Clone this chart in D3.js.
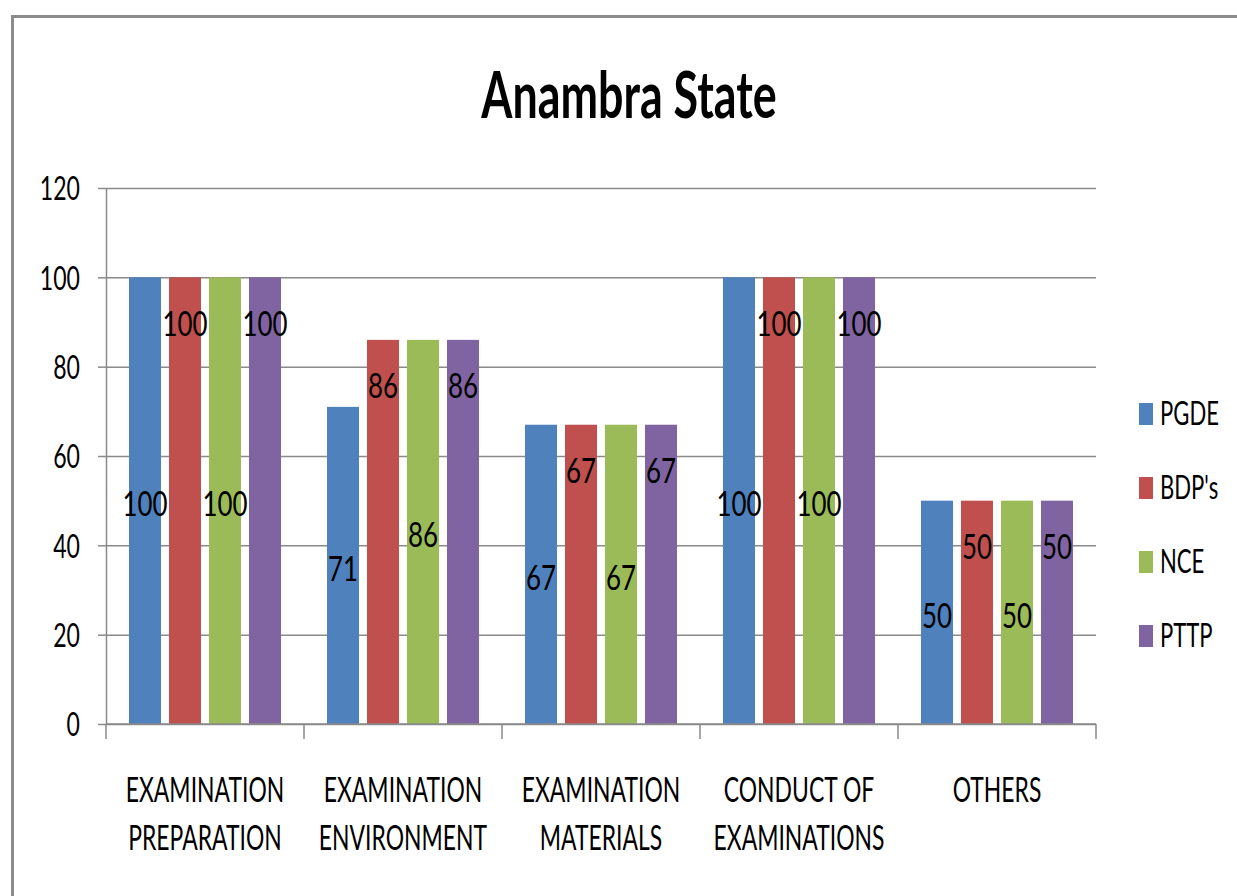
<!DOCTYPE html>
<html>
<head>
<meta charset="utf-8">
<script src="https://cdn.jsdelivr.net/npm/d3@7"></script>
<style>
  body { margin: 0; background: #fff; }
  svg { display: block; }
  text { font-family: Lato, "Open Sans", sans-serif; fill: #000; }
</style>
</head>
<body>
<div id="chart"></div>
<script>
// data
var categories = ["EXAMINATION\nPREPARATION", "EXAMINATION\nENVIRONMENT", "EXAMINATION\nMATERIALS", "CONDUCT OF\nEXAMINATIONS", "OTHERS"];
var seriesNames = ["PGDE", "BDP's", "NCE", "PTTP"];
var pgde = [100, 71, 67, 100, 50];
var bdps = [100, 86, 67, 100, 50];
var nce  = [100, 86, 67, 100, 50];
var pttp = [100, 86, 67, 100, 50];
var yTicks = [0, 20, 40, 60, 80, 100, 120];
var colors = ["#4F81BD", "#C0504D", "#9BBB59", "#8064A2"];

var seriesValues = [pgde, bdps, nce, pttp];

var W = 1237, H = 896;
var margin = { top: 188, right: 141, bottom: 172, left: 106 };
var width = W - margin.left - margin.right,
    height = H - margin.top - margin.bottom;

var svg = d3.select("#chart").append("svg")
    .attr("width", W).attr("height", H);

// outer chart frame (runs off the right / bottom edge like the picture)
svg.append("rect")
    .attr("x", 12.5).attr("y", 16.5)
    .attr("width", W + 20).attr("height", H + 20)
    .attr("fill", "none").attr("stroke", "#8c8c8c").attr("stroke-width", 3);

// the reference font is very narrow -> squash text horizontally around its anchor
function squeeze(sel, k) {
  sel.each(function() {
    var t = d3.select(this);
    var x = +t.attr("x") || 0, yy = +t.attr("y") || 0;
    t.attr("x", 0).attr("y", 0)
     .attr("transform", "translate(" + x + "," + yy + ") scale(" + k + ",1)");
  });
}

svg.append("text")
    .attr("x", 629).attr("y", 118)
    .attr("text-anchor", "middle")
    .style("font-size", "65px").style("font-weight", "bold")
    .text("Anambra State")
    .call(squeeze, 0.69);

var g = svg.append("g")
    .attr("transform", "translate(" + margin.left + "," + margin.top + ")");

var y = d3.scaleLinear().domain([0, 120]).range([height, 0]);
var x0 = d3.scaleBand().domain(categories).range([0, width]).padding(0);
var x1 = d3.scaleBand().domain(seriesNames).range([0, x0.bandwidth()])
    .paddingInner(0.2).paddingOuter(0.575);

// grid
g.append("g")
    .attr("class", "grid")
    .call(d3.axisLeft(y).tickValues(yTicks).tickSize(-width).tickFormat(""))
    .call(function(s) {
      s.select(".domain").remove();
      s.selectAll("line").attr("stroke", "#8a8a8a").attr("stroke-width", 1.5);
    });

// bars
var groups = g.selectAll(".cat")
    .data(categories)
    .enter().append("g")
    .attr("class", "cat")
    .attr("transform", function(d) { return "translate(" + x0(d) + ",0)"; });

groups.selectAll("rect")
    .data(function(d, i) {
      return seriesNames.map(function(s, j) { return { s: s, j: j, v: seriesValues[j][i] }; });
    })
    .enter().append("rect")
    .attr("x", function(d) { return x1(d.s); })
    .attr("width", x1.bandwidth())
    .attr("y", function(d) { return y(d.v); })
    .attr("height", function(d) { return height - y(d.v); })
    .attr("fill", function(d) { return colors[d.j]; });

// data labels: blue / green centred, red / purple near the top
groups.selectAll(".lbl")
    .data(function(d, i) {
      return seriesNames.map(function(s, j) { return { s: s, j: j, v: seriesValues[j][i] }; });
    })
    .enter().append("text")
    .attr("class", "lbl")
    .attr("x", function(d) { return x1(d.s) + x1.bandwidth() / 2; })
    .attr("y", function(d) {
      return (d.j % 2 == 0) ? y(d.v / 2) + 15.5 : y(d.v) + 58.5;
    })
    .attr("text-anchor", "middle")
    .style("font-size", "35px")
    .text(function(d) { return d.v; })
    .call(squeeze, 0.74);

// y axis
g.append("g")
    .call(d3.axisLeft(y).tickValues(yTicks).tickSize(8).tickSizeOuter(0).tickPadding(18))
    .call(function(s) {
      s.select(".domain").attr("stroke", "#8a8a8a").attr("stroke-width", 1.5);
      s.selectAll("line").attr("stroke", "#8a8a8a").attr("stroke-width", 1.5);
      s.selectAll("text").style("font-size", "33px").style("font-family", null).attr("fill", "#000")
        .attr("dy", "0.36em").call(squeeze, 0.70);
    });

// x axis line + category boundary ticks
var xAxis = g.append("g").attr("transform", "translate(0," + height + ")");
xAxis.append("line")
    .attr("x1", 0).attr("x2", width)
    .attr("stroke", "#8a8a8a").attr("stroke-width", 1.5);
xAxis.selectAll(".tk")
    .data(categories.concat([null]))
    .enter().append("line")
    .attr("class", "tk")
    .attr("x1", function(d) { return d == null ? width : x0(d); })
    .attr("x2", function(d) { return d == null ? width : x0(d); })
    .attr("y1", 0).attr("y2", 15)
    .attr("stroke", "#8a8a8a").attr("stroke-width", 1.5);

var catLbl = xAxis.selectAll(".catlbl")
    .data(categories)
    .enter().append("text")
    .attr("class", "catlbl")
    .attr("x", function(d) { return x0(d) + x0.bandwidth() / 2; })
    .attr("y", 78)
    .attr("text-anchor", "middle")
    .style("font-size", "35px");
catLbl.selectAll("tspan")
    .data(function(d) { return d.split("\n"); })
    .enter().append("tspan")
    .attr("x", 0)
    .attr("dy", function(d, i) { return i == 0 ? 0 : 48; })
    .text(function(d) { return d; });
catLbl.call(squeeze, 0.655);

// legend
var legend = svg.append("g").attr("transform", "translate(1139,403)");
var items = legend.selectAll(".item")
    .data(seriesNames)
    .enter().append("g")
    .attr("transform", function(d, i) { return "translate(0," + i * 74 + ")"; });
items.append("rect")
    .attr("width", 14).attr("height", 22)
    .attr("fill", function(d, i) { return colors[i]; });
items.append("text")
    .attr("x", 21).attr("y", 22)
    .style("font-size", "32px")
    .text(function(d) { return d; })
    .call(squeeze, 0.69);
</script>
</body>
</html>
